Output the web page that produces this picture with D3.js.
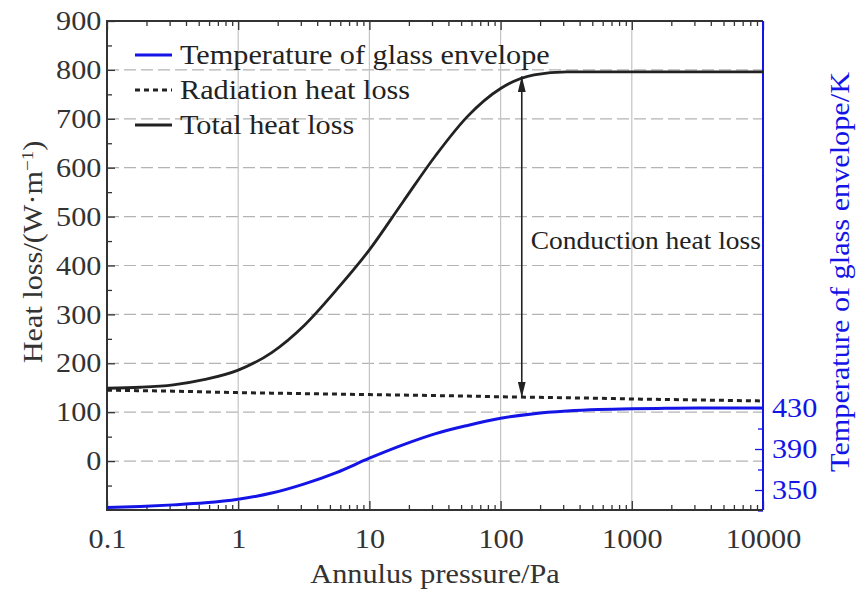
<!DOCTYPE html>
<html>
<head>
<meta charset="utf-8">
<script src="https://cdn.jsdelivr.net/npm/d3@7"></script>
<style>
  html, body { margin: 0; padding: 0; background: #fff; }
  svg { display: block; font-family: "Liberation Serif", "Times New Roman", serif; }
</style>
</head>
<body>
<svg id="chart" width="858" height="590"></svg>
<script>
const pressure = [0.1, 0.18, 0.32, 0.56, 1, 1.8, 3.2, 5.6, 10, 18, 32, 56, 100, 180, 320, 560, 1000, 1800, 3200, 5600, 10000];
const totalLoss = [149, 151, 156, 167, 186, 222, 278, 350, 432, 530, 625, 705, 762, 790, 796, 796, 796, 796, 796, 796, 796];
const radiationLoss = [145, 144, 143, 141.5, 140, 139, 138, 137, 136, 135, 134, 133, 131.5, 130.5, 129.5, 128.5, 127, 126, 125, 124, 123];
const glassTemp = [333, 334, 335.5, 337.5, 341, 347, 356, 367, 381, 394, 405, 413, 420, 424.5, 427, 428.5, 429.3, 429.7, 430, 430, 430];

const xTicks = [0.1, 1, 10, 100, 1000, 10000];
const heatTicks = [0, 100, 200, 300, 400, 500, 600, 700, 800, 900];
const tempTicks = [350, 390, 430];
const heatDomain = [-100, 900];
const tempDomain = [330.5, 807.5];
const arrowPressure = 145;
const arrowRange = [787, 130];

const blue = '#1414e6';
const legendItems = [
    { label: 'Temperature of glass envelope', color: blue, dash: null, width: 3 },
    { label: 'Radiation heat loss', color: '#222', dash: '5,4', width: 3 },
    { label: 'Total heat loss', color: '#222', dash: null, width: 3 }
];

const fontSize = '27px';
const stretch = 'scale(1.12,1)';

const svg = d3.select('#chart');
const margin = { top: 21, right: 95, bottom: 80, left: 107 };
const width = 858, height = 590;
const innerWidth = width - margin.left - margin.right;
const innerHeight = height - margin.top - margin.bottom;

const g = svg.append('g').attr('transform', `translate(${margin.left},${margin.top})`);

const x = d3.scaleLog().domain([0.1, 10000]).range([0, innerWidth]);
const yHeat = d3.scaleLinear().domain(heatDomain).range([innerHeight, 0]);
const yTemp = d3.scaleLinear().domain(tempDomain).range([innerHeight, 0]);

// grid
g.append('g')
    .selectAll('line')
    .data(heatTicks.filter(d => d > heatDomain[0] && d < heatDomain[1]))
    .join('line')
    .attr('x1', 0).attr('x2', innerWidth)
    .attr('y1', d => yHeat(d)).attr('y2', d => yHeat(d))
    .attr('stroke', '#b4b4b4').attr('stroke-width', 1.2)
    .attr('stroke-dasharray', '12,5');

g.append('g')
    .selectAll('line')
    .data(xTicks.slice(1, -1))
    .join('line')
    .attr('x1', d => x(d)).attr('x2', d => x(d))
    .attr('y1', 0).attr('y2', innerHeight)
    .attr('stroke', '#c4c4c4').attr('stroke-width', 1.2);

// axes
const minorX = x.ticks().filter(d => !xTicks.includes(d));
const styleAxis = (sel, color) => {
    sel.attr('font-family', null).attr('font-size', null);
    sel.select('.domain').remove();
    sel.selectAll('line').attr('stroke', color).attr('stroke-width', 1.3);
    sel.selectAll('text').attr('fill', color).attr('font-size', fontSize)
        .attr('transform', stretch);
};

g.append('g')
    .attr('transform', `translate(0,${innerHeight})`)
    .call(d3.axisBottom(x).tickValues(xTicks).tickSize(-9).tickPadding(19).tickFormat(d3.format('~g')))
    .call(s => styleAxis(s, '#333'));
g.append('g')
    .attr('transform', `translate(0,${innerHeight})`)
    .call(d3.axisBottom(x).tickValues(minorX).tickSize(-5).tickFormat(''))
    .call(s => styleAxis(s, '#333'));
g.append('g')
    .call(d3.axisTop(x).tickValues(xTicks).tickSize(-9).tickFormat(''))
    .call(s => styleAxis(s, '#333'));
g.append('g')
    .call(d3.axisTop(x).tickValues(minorX).tickSize(-5).tickFormat(''))
    .call(s => styleAxis(s, '#333'));

const minorHeat = d3.range(heatDomain[0] + 50, heatDomain[1], 100);
g.append('g')
    .call(d3.axisLeft(yHeat).tickValues(heatTicks).tickSize(-8).tickPadding(5))
    .call(s => styleAxis(s, '#333'));
g.append('g')
    .call(d3.axisLeft(yHeat).tickValues(minorHeat).tickSize(-5).tickFormat(''))
    .call(s => styleAxis(s, '#333'));

const minorTemp = [330, 370, 410];
g.append('g')
    .attr('transform', `translate(${innerWidth},0)`)
    .call(d3.axisRight(yTemp).tickValues(tempTicks).tickSize(-8).tickPadding(8))
    .call(s => styleAxis(s, blue));
g.append('g')
    .attr('transform', `translate(${innerWidth},0)`)
    .call(d3.axisRight(yTemp).tickValues(minorTemp).tickSize(-5).tickFormat(''))
    .call(s => styleAxis(s, blue));

// frame
g.append('path')
    .attr('d', `M${innerWidth},0H0V${innerHeight}H${innerWidth}`)
    .attr('fill', 'none').attr('stroke', '#333').attr('stroke-width', 2);
g.append('line')
    .attr('x1', innerWidth).attr('x2', innerWidth)
    .attr('y1', 0).attr('y2', innerHeight)
    .attr('stroke', blue).attr('stroke-width', 2);

// curves
const heatLine = d3.line()
    .x((d, i) => x(pressure[i]))
    .y(d => yHeat(d))
    .curve(d3.curveMonotoneX);

g.append('path')
    .attr('d', heatLine(radiationLoss))
    .attr('fill', 'none').attr('stroke', '#222').attr('stroke-width', 3)
    .attr('stroke-dasharray', '5,4');

g.append('path')
    .attr('d', heatLine(totalLoss))
    .attr('fill', 'none').attr('stroke', '#222').attr('stroke-width', 2.8);

g.append('path')
    .attr('d', d3.line()
        .x((d, i) => x(pressure[i]))
        .y(d => yTemp(d))
        .curve(d3.curveMonotoneX)(glassTemp))
    .attr('fill', 'none').attr('stroke', blue).attr('stroke-width', 3);

// conduction arrow
const defs = svg.append('defs');
defs.append('marker')
    .attr('id', 'head')
    .attr('viewBox', '0 0 10 10')
    .attr('refX', 10).attr('refY', 5)
    .attr('markerWidth', 16).attr('markerHeight', 8)
    .attr('markerUnits', 'userSpaceOnUse')
    .attr('orient', 'auto-start-reverse')
    .attr('preserveAspectRatio', 'none')
    .append('path')
    .attr('d', 'M0,0L10,5L0,10Z')
    .attr('fill', '#222');

const ax = x(arrowPressure);
g.append('line')
    .attr('x1', ax).attr('x2', ax)
    .attr('y1', yHeat(arrowRange[0])).attr('y2', yHeat(arrowRange[1]))
    .attr('stroke', '#222').attr('stroke-width', 1.6)
    .attr('marker-start', 'url(#head)')
    .attr('marker-end', 'url(#head)');

g.append('text')
    .attr('transform', `translate(${ax + 9},${yHeat(433)}) ${stretch}`)
    .attr('font-size', '24.5px').attr('fill', '#222')
    .text('Conduction heat loss');

// legend
const legend = g.append('g').attr('transform', 'translate(28,34)');
legendItems.forEach((d, i) => {
    const row = legend.append('g').attr('transform', `translate(0,${i * 35})`);
    row.append('line')
        .attr('x1', 0).attr('x2', 37).attr('y1', 0).attr('y2', 0)
        .attr('stroke', d.color).attr('stroke-width', d.width)
        .attr('stroke-dasharray', d.dash);
    row.append('text')
        .attr('transform', `translate(45,9) ${stretch}`)
        .attr('font-size', fontSize).attr('fill', '#222')
        .text(d.label);
});

// axis titles
svg.append('text')
    .attr('transform', `translate(${margin.left + innerWidth / 2},583) ${stretch}`)
    .attr('text-anchor', 'middle')
    .attr('font-size', fontSize).attr('fill', '#333')
    .text('Annulus pressure/Pa');

const yTitle = svg.append('text')
    .attr('transform', `translate(42,252) rotate(-90) ${stretch}`)
    .attr('text-anchor', 'middle')
    .attr('font-size', fontSize).attr('fill', '#333');
yTitle.append('tspan').text('Heat loss/(W·m');
yTitle.append('tspan').attr('baseline-shift', 'super').attr('font-size', '17px').text('−1');
yTitle.append('tspan').text(')');

svg.append('text')
    .attr('transform', `translate(849,272) rotate(-90) ${stretch}`)
    .attr('text-anchor', 'middle')
    .attr('font-size', fontSize).attr('fill', blue)
    .text('Temperature of glass envelope/K');
</script>
</body>
</html>
